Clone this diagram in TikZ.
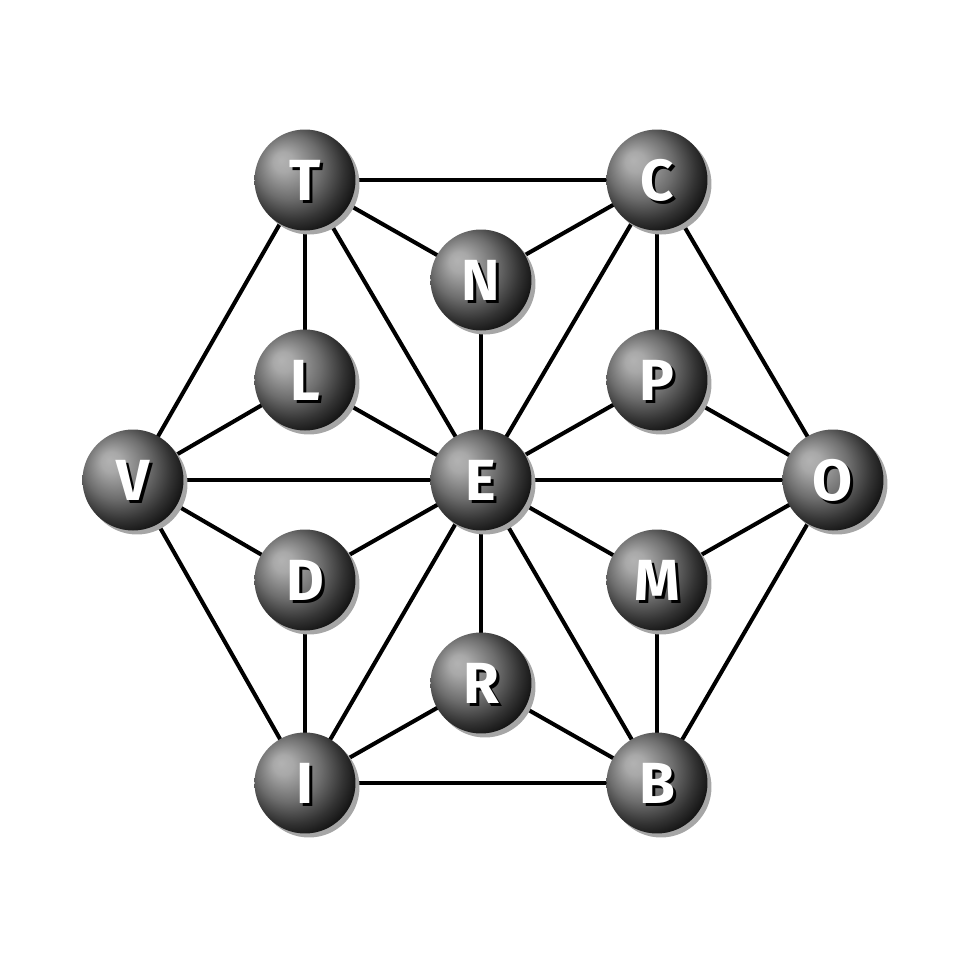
\documentclass[tikz,border=0pt]{standalone}
\usepackage{fontspec}
\setmainfont{Fira Sans}
\usetikzlibrary{calc}
\pgfdeclareradialshading{myball}{\pgfpoint{-12bp}{10bp}}{%
  color(0bp)=(black!30);
  color(5bp)=(black!34);
  color(16bp)=(black!57);
  color(25bp)=(black!80);
  color(31bp)=(black!93);
  color(50bp)=(black)}
\tikzset{
  ball/.style={circle, minimum size=1.01cm, inner sep=0pt, shading=myball,
    preaction={fill=black!35, transform canvas={shift={(0.04,-0.04)}}}},
  edge/.style={line width=1.15pt, black},
}
\begin{document}
\begin{tikzpicture}[x=1cm,y=1cm, font=\fontsize{16.5}{17}\selectfont\bfseries]
\useasboundingbox (0,0) rectangle (9.6,9.6);
\coordinate (T) at (3.05,7.80);
\coordinate (C) at (6.57,7.80);
\coordinate (N) at (4.81,6.80);
\coordinate (L) at (3.05,5.80);
\coordinate (P) at (6.57,5.80);
\coordinate (V) at (1.33,4.80);
\coordinate (E) at (4.81,4.80);
\coordinate (O) at (8.33,4.80);
\coordinate (D) at (3.05,3.80);
\coordinate (M) at (6.57,3.80);
\coordinate (R) at (4.81,2.77);
\coordinate (I) at (3.05,1.77);
\coordinate (B) at (6.57,1.77);
\foreach \a/\b in {T/C,T/N,C/N,T/L,T/V,T/E,N/E,C/P,C/E,C/O,L/V,L/E,P/E,P/O,V/E,E/O,V/D,V/I,D/E,D/I,E/M,E/R,E/I,E/B,M/O,M/B,O/B,R/I,R/B,I/B}
  \draw[edge] (\a) -- (\b);
\foreach \n in {T,C,N,L,P,V,E,O,D,M,R,I,B}
  \node[ball] (b\n) at (\n) {};
\foreach \n in {T,C,N,L,P,V,E,O,D,M,R,I,B}
  {\node[text=black] (s\n) at ($(\n)+(0.03,-0.03)$) {\n};
   \node[text=white] (t\n) at (\n) {\n};}
\end{tikzpicture}
\end{document}
